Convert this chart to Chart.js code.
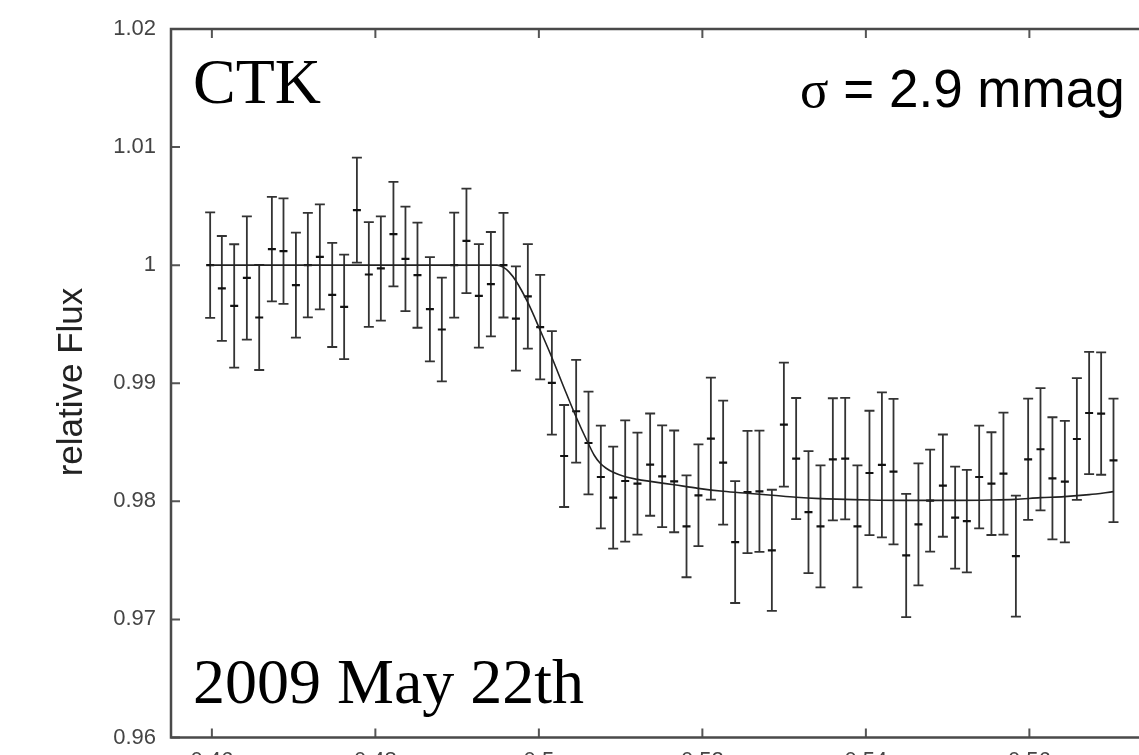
<!DOCTYPE html>
<html><head><meta charset="utf-8">
<script src="https://cdn.jsdelivr.net/npm/chart.js@4/dist/chart.umd.min.js"></script>
<style>html,body{margin:0;padding:0;background:#fff;overflow:hidden;width:1139px;height:755px}canvas{display:block}</style>
</head><body><canvas id="c" width="1180" height="790"></canvas>
<script>
// Orbital phase of each measurement
const phase = [0.45979,0.46122,0.46273,0.46428,0.46579,0.46734,0.46876,0.47028,0.47174,0.47321,
0.47472,0.47618,0.47774,0.47920,0.48067,0.48221,0.48368,0.48515,0.48667,0.48813,
0.48964,0.49114,0.49266,0.49413,0.49567,0.49719,0.49865,0.50016,0.50159,0.50309,
0.50456,0.50607,0.50758,0.50909,0.51056,0.51206,0.51361,0.51508,0.51655,0.51806,
0.51952,0.52104,0.52254,0.52401,0.52552,0.52698,0.52850,0.52997,0.53147,0.53298,
0.53445,0.53596,0.53747,0.53897,0.54044,0.54196,0.54338,0.54493,0.54643,0.54786,
0.54942,0.55092,0.55235,0.55386,0.55536,0.55683,0.55835,0.55985,0.56136,0.56282,
0.56434,0.56581,0.56731,0.56878,0.57029];
// Relative flux
const flux = [1.0000,0.99803,0.99655,0.99892,0.99557,1.00136,1.00119,0.99831,1.0000,1.0007,
0.99748,0.99647,1.00466,0.99921,0.99972,1.00263,1.00053,0.99915,0.99627,0.99455,
1.0000,1.00206,0.99740,0.99839,1.0000,0.99548,0.99736,0.99475,0.99003,0.98384,
0.98763,0.98494,0.98206,0.98031,0.98172,0.98150,0.98311,0.98212,0.98169,0.97788,
0.98051,0.98531,0.98328,0.97655,0.98079,0.98085,0.97585,0.98650,0.98362,0.97909,
0.97788,0.98356,0.98362,0.97788,0.98240,0.98308,0.98252,0.97542,0.97805,0.98006,
0.98133,0.97862,0.97833,0.98206,0.98150,0.98235,0.97536,0.98356,0.98441,0.98195,
0.98167,0.98528,0.98748,0.98743,0.98347];
// Flux uncertainty (half length of error bar)
const fluxErr = [0.00447,0.00444,0.00522,0.00522,0.00445,0.00442,0.00446,0.00444,0.00442,0.00444,
0.00441,0.00442,0.00445,0.00444,0.00441,0.00442,0.00442,0.00445,0.00441,0.00439,
0.00445,0.00442,0.00439,0.00442,0.00443,0.00441,0.00443,0.00442,0.00438,0.00432,
0.00435,0.00435,0.00435,0.00432,0.00513,0.00432,0.00433,0.00431,0.00431,0.00431,
0.00431,0.00516,0.00525,0.00516,0.00517,0.00513,0.00513,0.00525,0.00513,0.00517,
0.00516,0.00517,0.00514,0.00516,0.00527,0.00614,0.00616,0.00522,0.00516,0.00432,
0.00433,0.00432,0.00434,0.00435,0.00435,0.00517,0.00513,0.00513,0.00517,0.00517,
0.00515,0.00516,0.00518,0.00518,0.00523];
// Transit model curve
const modelPhase = [0.45979,0.4949,0.49563,0.49637,0.49722,0.49869,0.50016,0.50163,0.50310,0.50457,
0.50603,0.50677,0.50750,0.50823,0.50909,0.51056,0.51203,0.51362,0.51655,0.51949,
0.52254,0.52548,0.52854,0.53147,0.53441,0.53747,0.54052,0.54419,0.54786,0.55153,
0.55520,0.55826,0.56132,0.56425,0.56731,0.57029];
const modelFlux = [1.0,1.0,0.99983,0.99941,0.99864,0.99678,0.99449,0.99212,0.98958,0.98712,
0.98492,0.98390,0.98322,0.98280,0.98246,0.98208,0.98186,0.98169,0.98140,0.98110,
0.98085,0.98068,0.98051,0.98034,0.98023,0.98017,0.98011,0.98008,0.98008,0.98008,
0.98011,0.98017,0.98031,0.98040,0.98057,0.98082];
const xTicks = [0.46,0.48,0.5,0.52,0.54,0.56];
const xTickLabels = ['0.46','0.48','0.5','0.52','0.54','0.56'];
const yTicks = [0.96,0.97,0.98,0.99,1,1.01,1.02];
const yTickLabels = ['0.96','0.97','0.98','0.99','1','1.01','1.02'];
const yTitle = 'relative Flux';
const stationLabel = 'CTK';
const dateLabel = '2009 May 22th';
const sigmaSymbol = 'σ';
const sigmaText = ' = 2.9 mmag';

const overlay = {
  id:'overlay',
  beforeDatasetsDraw(chart){
    const {ctx, scales:{x,y}} = chart;
    ctx.save();
    ctx.strokeStyle='#333'; ctx.lineWidth=1.8;
    for(let i=0;i<phase.length;i++){
      const px=x.getPixelForValue(phase[i]);
      const yt=y.getPixelForValue(flux[i]+fluxErr[i]);
      const yb=y.getPixelForValue(flux[i]-fluxErr[i]);
      ctx.beginPath();
      ctx.moveTo(px,yt);ctx.lineTo(px,yb);
      ctx.moveTo(px-5,yt);ctx.lineTo(px+5,yt);
      ctx.moveTo(px-5,yb);ctx.lineTo(px+5,yb);
      ctx.stroke();
    }
    ctx.restore();
  },
  afterDraw(chart){
    const {ctx, chartArea:a, scales:{x,y}} = chart;
    ctx.save();
    // ticks (inward)
    ctx.strokeStyle='#555'; ctx.lineWidth=2;
    ctx.beginPath();
    xTicks.forEach(v=>{const px=x.getPixelForValue(v);
      ctx.moveTo(px,a.bottom);ctx.lineTo(px,a.bottom-9);
      ctx.moveTo(px,a.top);ctx.lineTo(px,a.top+9);});
    yTicks.forEach(v=>{const py=y.getPixelForValue(v);
      ctx.moveTo(a.left,py);ctx.lineTo(a.left+9,py);
      ctx.moveTo(a.right,py);ctx.lineTo(a.right-9,py);});
    ctx.stroke();
    // frame
    ctx.strokeStyle='#4a4a4a'; ctx.lineWidth=2.5;
    ctx.strokeRect(a.left,a.top,a.right-a.left,a.bottom-a.top);
    // y title
    ctx.fillStyle='#222';
    ctx.font='35px "Liberation Sans", Arial, sans-serif';
    ctx.textAlign='center'; ctx.textBaseline='middle';
    ctx.translate(72,382); ctx.rotate(-Math.PI/2);
    ctx.fillText(yTitle,0,0);
    ctx.setTransform(1,0,0,1,0,0);
    // annotations
    ctx.fillStyle='#000'; ctx.textAlign='left'; ctx.textBaseline='alphabetic';
    ctx.font='64px "Liberation Serif", "Times New Roman", serif';
    ctx.fillText(stationLabel,193,103);
    ctx.fillText(dateLabel,193,703);
    ctx.font='53px "Liberation Serif", "Times New Roman", serif';
    ctx.fillText(sigmaSymbol,800,107);
    const w=ctx.measureText(sigmaSymbol).width;
    ctx.font='53px "Liberation Sans", Arial, sans-serif';
    ctx.fillText(sigmaText,800+w,107);
    ctx.restore();
  }
};

new Chart(document.getElementById('c'),{
  type:'scatter',
  data:{datasets:[
    {type:'line',data:modelPhase.map((p,i)=>({x:p,y:modelFlux[i]})),borderColor:'#222',borderWidth:1.6,
     pointRadius:0,cubicInterpolationMode:'monotone',fill:false},
    {data:phase.map((p,i)=>({x:p,y:flux[i]})),pointStyle:'line',pointRadius:4,borderColor:'#111',
     backgroundColor:'#111',borderWidth:2.2}
  ]},
  options:{
    responsive:false,animation:false,devicePixelRatio:1,
    layout:{padding:{top:29,left:0,right:28,bottom:0}},
    plugins:{legend:{display:false},tooltip:{enabled:false}},
    scales:{
      x:{type:'linear',min:0.455,max:0.575,
        grid:{display:false,drawTicks:false},border:{display:false},
        afterBuildTicks:s=>{s.ticks=xTicks.map(v=>({value:v}));},
        afterFit:s=>{s.height=52.5;},
        ticks:{padding:10,color:'#444',maxRotation:0,autoSkip:false,
          font:{family:'"Liberation Sans", Arial, sans-serif',size:22},
          callback:v=>{const i=xTicks.indexOf(v);return i>=0?xTickLabels[i]:'';}}},
      y:{type:'linear',min:0.96,max:1.02,
        grid:{display:false,drawTicks:false},border:{display:false},
        afterBuildTicks:s=>{s.ticks=yTicks.map(v=>({value:v}));},
        afterFit:s=>{s.width=171;},
        ticks:{padding:15,color:'#444',autoSkip:false,
          font:{family:'"Liberation Sans", Arial, sans-serif',size:22},
          callback:v=>{const i=yTicks.indexOf(v);return i>=0?yTickLabels[i]:'';}}}
    }
  },
  plugins:[overlay]
});
</script></body></html>
